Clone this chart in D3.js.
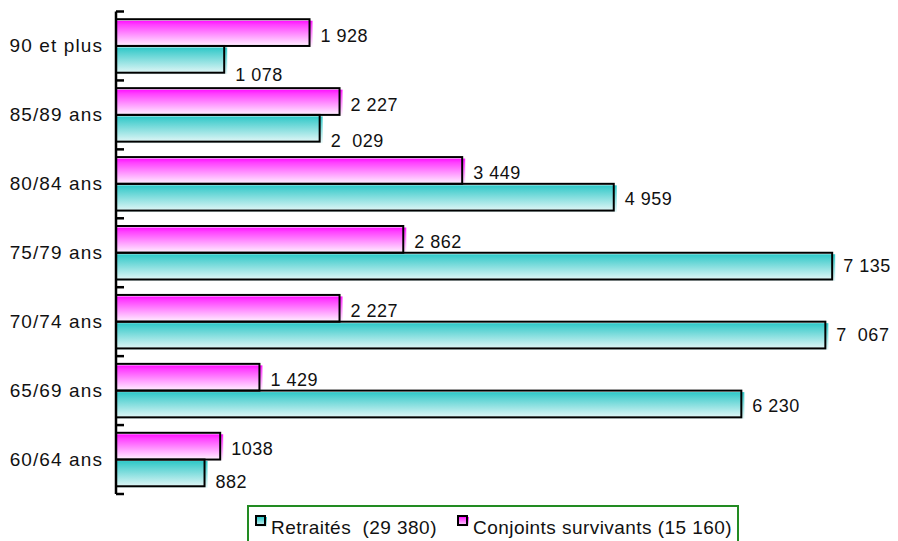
<!DOCTYPE html>
<html>
<head>
<meta charset="utf-8">
<script src="https://cdn.jsdelivr.net/npm/d3@7"></script>
<style>
  body { margin: 0; background: #fff; }
  svg text { font-family: "Liberation Sans", Arial, sans-serif; fill: #111; white-space: pre; }
</style>
</head>
<body>
<div id="chart"></div>
<script>
(function(){
  // categories, top to bottom
  const categories = ["90 et plus", "85/89 ans", "80/84 ans", "75/79 ans", "70/74 ans", "65/69 ans", "60/64 ans"];

  // series values
  const conjoints = [1928, 2227, 3449, 2862, 2227, 1429, 1038];
  const retraites = [1078, 2029, 4959, 7135, 7067, 6230, 882];

  // data labels as printed
  const conjointsLabels = ["1 928", "2 227", "3 449", "2 862", "2 227", "1 429", "1038"];
  const retraitesLabels = ["1 078", "2  029", "4 959", "7 135", "7  067", "6 230", "882"];

  const legendLabels = ["Retraités  (29 380)", "Conjoints survivants (15 160)"];

  const width = 898, height = 541;

  const svg = d3.select("#chart").append("svg")
    .attr("width", width).attr("height", height);

  const defs = svg.append("defs");
  function grad(id, stops) {
    const g = defs.append("linearGradient").attr("id", id)
      .attr("x1", 0).attr("y1", 0).attr("x2", 0).attr("y2", 1);
    stops.forEach(s => g.append("stop").attr("offset", s[0]).attr("stop-color", s[1]));
  }
  grad("gPink", [["0%", "#ff10ff"], ["15%", "#ff40ff"], ["100%", "#ffffff"]]);
  grad("gTeal", [["0%", "#2ec8c8"], ["15%", "#4ccfcf"], ["100%", "#eaf9f9"]]);

  const x = d3.scaleLinear().domain([0, 8000]).range([116, 919]);
  const y = d3.scaleBand().domain(categories).range([11.5, 494])
    .paddingInner(0.224).paddingOuter(0.112);
  const sub = d3.scaleBand().domain(["c", "r"]).range([0, y.bandwidth()]);

  const rows = categories.map((c, i) => ({
    cat: c,
    bars: [
      { key: "c", v: conjoints[i], lab: conjointsLabels[i], fill: "url(#gPink)" },
      { key: "r", v: retraites[i], lab: retraitesLabels[i], fill: "url(#gTeal)" }
    ]
  }));

  // small vertical nudges of teal labels (as in the original layout)
  const tealNudge = [16, 13, 2, 0, 0, 2, 9];

  const g = svg.append("g");
  rows.forEach((row, i) => {
    row.bars.forEach(b => {
      const y0 = y(row.cat) + sub(b.key);
      const h = sub.bandwidth();
      const w = x(b.v) - x(0);
      // shaded fill, shifted a little right/down
      g.append("rect")
        .attr("x", x(0) + 1).attr("y", y0 + 1.5)
        .attr("width", w + 2).attr("height", h)
        .attr("fill", b.fill);
      // outline
      g.append("rect")
        .attr("x", x(0)).attr("y", y0)
        .attr("width", w).attr("height", h)
        .attr("fill", "none").attr("stroke", "#000").attr("stroke-width", 2);
      const dy = b.key === "c" ? 3 : tealNudge[i];
      g.append("text")
        .attr("x", x(b.v) + 11).attr("y", y0 + h / 2 + dy)
        .attr("dominant-baseline", "central")
        .style("font-size", "18px").style("letter-spacing", "0.5px")
        .text(b.lab);
    });
  });

  // axis line and ticks
  const ax = svg.append("g");
  ax.append("line").attr("x1", x(0)).attr("x2", x(0))
    .attr("y1", y.range()[0]).attr("y2", y.range()[1])
    .attr("stroke", "#000").attr("stroke-width", 2.5);
  const edges = categories.map(c => y(c) - y.step() * y.paddingInner() / 2);
  edges[0] = y.range()[0];
  edges.push(y.range()[1]);
  ax.selectAll(".tick").data(edges).join("line")
    .attr("x1", x(0)).attr("x2", x(0) + 8)
    .attr("y1", d => d).attr("y2", d => d)
    .attr("stroke", "#000").attr("stroke-width", 2.5);

  ax.selectAll(".cat").data(categories).join("text")
    .attr("x", 103).attr("y", d => y(d) + y.bandwidth() / 2)
    .attr("text-anchor", "end").attr("dominant-baseline", "central")
    .style("font-size", "19px").style("letter-spacing", "1.1px")
    .text(d => d);

  // legend
  const lg = svg.append("g");
  lg.append("rect").attr("x", 248).attr("y", 506).attr("width", 490).attr("height", 50)
    .attr("fill", "#fff").attr("stroke", "#228b22").attr("stroke-width", 2);
  const legItems = [
    { x: 256, fill: "url(#gTeal)", lab: legendLabels[0] },
    { x: 458, fill: "url(#gPink)", lab: legendLabels[1] }
  ];
  legItems.forEach(it => {
    lg.append("rect").attr("x", it.x + 1).attr("y", 517).attr("width", 10).attr("height", 10)
      .attr("fill", it.fill);
    lg.append("rect").attr("x", it.x).attr("y", 516).attr("width", 9).attr("height", 9)
      .attr("fill", "none").attr("stroke", "#000").attr("stroke-width", 2);
    lg.append("text").attr("x", it.x + 15).attr("y", 527)
      .attr("dominant-baseline", "central")
      .style("font-size", "19px").style("letter-spacing", "0.45px")
      .text(it.lab);
  });
})();
</script>
</body>
</html>
